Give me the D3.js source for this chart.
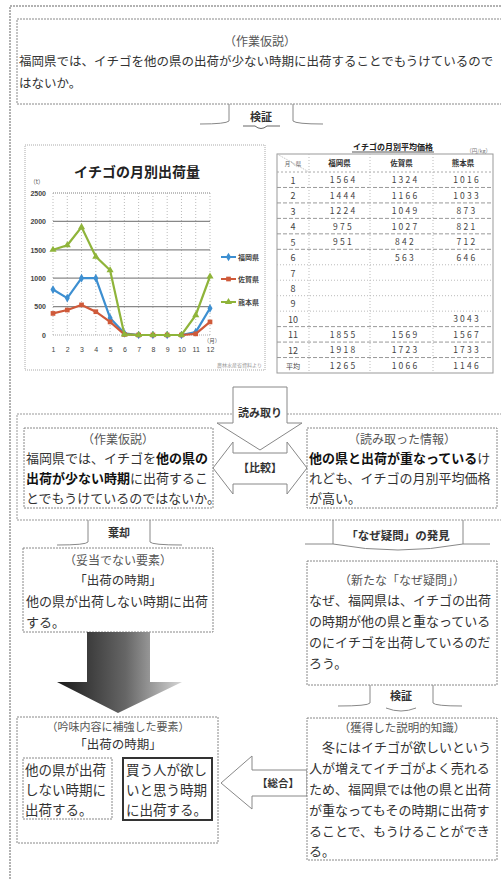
<!DOCTYPE html>
<html><head><meta charset="utf-8">
<script src="https://cdn.jsdelivr.net/npm/d3@7"></script>
<style>body{margin:0;background:#fff}svg{display:block;font-family:"Noto Sans CJK JP","Noto Sans",sans-serif}</style>
</head><body><svg id="c" width="501" height="879"></svg>
<script>
// ---------- data ----------
const months = ["1","2","3","4","5","6","7","8","9","10","11","12"];
const seriesNames = ["福岡県","佐賀県","熊本県"];
const fukuoka  = [800, 650, 1000, 1000, 300, 30, 0, 0, 0, 0, 50, 470];
const saga     = [380, 440, 530, 410, 230, 10, 0, 0, 0, 0, 20, 230];
const kumamoto = [1500, 1580, 1900, 1380, 1140, 10, 0, 0, 0, 0, 350, 1030];
const yTicks = [0, 500, 1000, 1500, 2000, 2500];
const tableHeader = ["月＼県", "福岡県", "佐賀県", "熊本県"];
const tableRows = ["1","2","3","4","5","6","7","8","9","10","11","12","平均"];
const priceFukuoka  = ["1564","1444","1224","975","951","","","","","","1855","1918","1265"];
const priceSaga     = ["1324","1166","1049","1027","842","563","","","","","1569","1723","1066"];
const priceKumamoto = ["1016","1033","873","821","712","646","","","","3043","1567","1733","1146"];

// ---------- helpers ----------
const svg = d3.select("#c");
const TXT = "#333", LINE = "#888";
const FS = 13;
function rect(x, y, w, h, o = {}) {
  return svg.append("rect").attr("x", x).attr("y", y).attr("width", w).attr("height", h)
    .attr("fill", o.fill || "#fff").attr("stroke", o.stroke || LINE)
    .attr("stroke-width", o.sw || 1).attr("stroke-dasharray", o.dash === undefined ? "2,1" : o.dash);
}
function path(d, o = {}) {
  return svg.append("path").attr("d", d).attr("fill", o.fill || "none").attr("stroke", o.stroke || LINE)
    .attr("stroke-width", o.sw || 1).attr("stroke-dasharray", o.dash || null);
}
function text(x, y, content, o = {}) {
  const t = svg.append("text").attr("x", x).attr("y", y).attr("font-size", o.size || FS)
    .attr("fill", o.color || TXT).attr("text-anchor", o.anchor || "start")
    .attr("font-weight", o.bold ? 700 : 400).attr("letter-spacing", o.ls || 0);
  if (Array.isArray(content)) {
    content.forEach(([s, b]) => t.append("tspan").attr("font-weight", b ? 700 : 400).attr("fill", b ? "#111" : (o.color || TXT)).text(s));
  } else t.text(content);
  return t;
}

// ---------- outer frame ----------
path("M10,879 L10,6 L510,6", {stroke: "#999", sw: 1.5, dash: "2,1"});

// ---------- top hypothesis ----------
rect(17, 19, 500, 85);
text(260, 46, "（作業仮説）", {anchor: "middle", size: 12, color: "#555"});
text(19, 66, "福岡県では、イチゴを他の県の出荷が少ない時期に出荷することでもうけているので", {size: 12.5});
text(19, 88, "はないか。", {size: 12.5});

// connector 検証 (top)
path("M229,104 L229,121 Q226,124 200,124");
path("M293,104 L293,121 Q296,124 323,124");
text(261, 121, "検証", {anchor: "middle", size: 11, bold: true});
path("M243,126 L255,126 Q261,131 267,126 L280,126", {stroke: "#666"});

// ---------- line chart ----------
rect(25, 145, 240, 225, {stroke: "#aaa", dash: "1,1"});
text(137, 177, "イチゴの月別出荷量", {anchor: "middle", size: 14, bold: true, color: "#222"});
const x = d3.scalePoint().domain(months).range([53, 210]);
const y = d3.scaleLinear().domain([0, 2500]).range([335, 193]);
const g = svg.append("g");
g.selectAll(".vg").data(months).join("line")
  .attr("x1", d => x(d)).attr("x2", d => x(d)).attr("y1", y(2500)).attr("y2", y(0))
  .attr("stroke", "#bbb").attr("stroke-dasharray", "1,2");
g.selectAll(".hg").data(yTicks).join("line")
  .attr("x1", 53).attr("x2", 210).attr("y1", d => y(d)).attr("y2", d => y(d))
  .attr("stroke", d => d === 0 || d === 2500 ? "#aaa" : "#888").attr("stroke-width", d => d === 0 ? 1 : 1.3)
  .attr("stroke-dasharray", d => d === 2500 || d === 0 ? "1,1" : null);
const ya = svg.append("g").attr("transform", "translate(49,0)")
  .call(d3.axisLeft(y).tickValues(yTicks).tickSize(0).tickPadding(3).tickFormat(d3.format("d")));
ya.select(".domain").remove();
ya.selectAll("text").attr("font-size", 7).attr("fill", "#444").attr("font-weight", 700);
const xa = svg.append("g").attr("transform", "translate(0,335)")
  .call(d3.axisBottom(x).tickSize(0).tickPadding(12));
xa.select(".domain").remove();
xa.selectAll("text").attr("font-size", 7).attr("fill", "#444");
text(37, 184, "（t）", {size: 6, color: "#555", anchor: "middle"});
text(212, 343, "（月）", {size: 5.5, color: "#555", anchor: "middle"});
text(262, 367, "農林水産省資料より", {size: 5, color: "#999", anchor: "end"});

const colors = ["#3d8fd1", "#cf5a3a", "#8fb43a"];
const symbols = [d3.symbolDiamond, d3.symbolSquare, d3.symbolTriangle];
[fukuoka, saga, kumamoto].forEach((vals, i) => {
  const line = d3.line().x((d, j) => x(months[j])).y(d => y(d));
  svg.append("path").datum(vals).attr("d", line).attr("fill", "none")
    .attr("stroke", colors[i]).attr("stroke-width", 2.2);
  svg.selectAll(".m" + i).data(vals).join("path")
    .attr("transform", (d, j) => `translate(${x(months[j])},${y(d)})`)
    .attr("d", d3.symbol(symbols[i], 22)).attr("fill", colors[i]);
  const ly = [257, 279, 302][i];
  svg.append("line").attr("x1", 221).attr("x2", 236).attr("y1", ly).attr("y2", ly)
    .attr("stroke", colors[i]).attr("stroke-width", 2);
  svg.append("path").attr("transform", `translate(228.5,${ly})`).attr("d", d3.symbol(symbols[i], 22)).attr("fill", colors[i]);
  text(238, ly + 2.5, seriesNames[i], {size: 7, color: "#444", bold: true});
});

// ---------- price table ----------
text(393, 150, "イチゴの月別平均価格", {anchor: "middle", size: 8, bold: true, color: "#222"});
path("M352,152 L434,152", {stroke: "#555"});
text(491, 153, "（円/kg）", {anchor: "end", size: 5.5, color: "#777"});
const colEdges = [277, 309, 370, 433, 493];
const rowY = d3.scaleBand().domain(tableRows).range([172, 373]);
rect(277, 154, 216, 219, {stroke: "#999", dash: null, fill: "#fff"});
path("M277,172 L493,172", {stroke: "#aaa", dash: "2,2"});
tableRows.forEach((r, i) => {
  if (i > 0) path(`M277,${rowY(r)} L493,${rowY(r)}`, {stroke: i >= 6 && i <= 9 ? "#bbb" : "#999", dash: i >= 6 && i <= 9 ? "1,2" : "4,2"});
});
colEdges.slice(1, 4).forEach(cx => path(`M${cx},154 L${cx},373`, {stroke: "#bbb", dash: "1,2"}));
path("M277,154 L309,172", {stroke: "#bbb", dash: "1,1"});
text(293, 166, tableHeader[0], {anchor: "middle", size: 5.5, color: "#666"});
tableHeader.slice(1).forEach((h, i) => text((colEdges[i + 1] + colEdges[i + 2]) / 2, 166, h, {anchor: "middle", size: 7.5, bold: true, color: "#333"}));
[priceFukuoka, priceSaga, priceKumamoto].forEach((col, ci) => {
  col.forEach((v, ri) => {
    text((colEdges[ci + 1] + colEdges[ci + 2]) / 2 + 4, rowY(tableRows[ri]) + rowY.bandwidth() / 2 + 3.5, v,
      {anchor: "middle", size: 8.5, ls: 2.2, color: "#444"});
  });
});
tableRows.forEach(r => text(293, rowY(r) + rowY.bandwidth() / 2 + 4, r, {anchor: "middle", size: r === "平均" ? 7 : 9, color: "#444"}));

// ---------- middle comparison section ----------
rect(17, 414, 500, 106, {stroke: "#999"});
rect(24, 428, 189, 80);
text(118, 444, "（作業仮説）", {anchor: "middle", size: 12, color: "#555"});
text(26, 463, [["福岡県では、イチゴを", false], ["他の県の", true]]);
text(26, 483, [["出荷が少ない時期", true], ["に出荷するこ", false]]);
text(26, 503, "とでもうけているのではないか。");
rect(307, 428, 190, 80);
text(402, 444, "（読み取った情報）", {anchor: "middle", size: 12, color: "#555"});
text(309, 463, [["他の県と出荷が重なっている", true], ["け", false]]);
text(309, 483, "れども、イチゴの月別平均価格");
text(309, 503, "が高い。");
// 読み取り arrow
path("M233,387 L287,387 L287,423 L302,423 L260,450 L217,423 L233,423 Z", {fill: "#fff", stroke: "#888"});
text(260, 417, "読み取り", {anchor: "middle", size: 11, bold: true});
// 比較 double arrow
path("M213,468 L233,442 L233,453 L287,453 L287,442 L307,468 L287,494 L287,484 L233,484 L233,494 Z", {stroke: "#888"});
text(260, 472, "【比較】", {anchor: "middle", size: 11, bold: true});

// connector 棄却
path("M88,520 L88,542 Q86,545 57,545");
path("M150,520 L150,542 Q152,545 182,545");
text(119, 537, "棄却", {anchor: "middle", size: 11, bold: true});
// 「なぜ疑問」の発見
path("M333,520 L333,544 L305,544 M463,520 L463,544 L490,544");
path("M333,544 Q398,556 463,544", {stroke: "#888"});
text(398, 540, "「なぜ疑問」の発見", {anchor: "middle", size: 11.5, bold: true});

// ---------- left lower ----------
rect(23, 548, 190, 84);
text(118, 565, "（妥当でない要素）", {anchor: "middle", size: 12, color: "#555"});
text(118, 585, "「出荷の時期」", {anchor: "middle", size: 12.5});
text(26, 606, "他の県が出荷しない時期に出荷");
text(26, 627, "する。");
// gradient arrow
const grad = svg.append("defs").append("linearGradient").attr("id", "ga").attr("x1", 0).attr("x2", 1);
grad.append("stop").attr("offset", 0).attr("stop-color", "#1a1a1a");
grad.append("stop").attr("offset", 0.55).attr("stop-color", "#666");
grad.append("stop").attr("offset", 1).attr("stop-color", "#d6d6d6");
path("M87,632 L150,632 L150,682 L182,682 L118,713 L57,682 L87,682 Z", {fill: "url(#ga)", stroke: "none"});

// ---------- right lower ----------
rect(307, 561, 190, 124);
text(402, 585, "（新たな「なぜ疑問」）", {anchor: "middle", size: 12, color: "#555"});
text(309, 605, "なぜ、福岡県は、イチゴの出荷");
text(309, 626, "の時期が他の県と重なっている");
text(309, 647, "のにイチゴを出荷しているのだ");
text(309, 668, "ろう。");
// connector 検証 (bottom)
path("M370,685 L370,703 Q368,706 338,706");
path("M433,685 L433,703 Q435,706 462,706");
text(401, 700, "検証", {anchor: "middle", size: 11, bold: true});
path("M386,708 Q401,714 416,708", {stroke: "#888"});

// ---------- bottom left ----------
rect(17, 717, 201, 126);
text(118, 731, "（吟味内容に補強した要素）", {anchor: "middle", size: 11, color: "#555"});
text(118, 749, "「出荷の時期」", {anchor: "middle", size: 12.5});
rect(23, 758, 89, 61);
text(25, 775, "他の県が出荷", {size: 13.5});
text(25, 795, "しない時期に", {size: 13.5});
text(25, 815, "出荷する。", {size: 13.5});
rect(123, 758, 89, 62, {stroke: "#333", sw: 2, dash: null});
text(126, 775, "買う人が欲し", {size: 13.5});
text(126, 795, "いと思う時期", {size: 13.5});
text(126, 815, "に出荷する。", {size: 13.5});
// 総合 arrow
path("M221,783 L252,756 L252,770 L307,770 L307,796 L252,796 L252,809 Z", {fill: "#fff", stroke: "#888"});
text(278, 787, "【総合】", {anchor: "middle", size: 10.5, bold: true});

// ---------- bottom right ----------
rect(307, 718, 190, 142);
text(402, 732, "（獲得した説明的知識）", {anchor: "middle", size: 11.5, color: "#555"});
text(309, 752, "　冬にはイチゴが欲しいという");
text(309, 773, "人が増えてイチゴがよく売れる");
text(309, 794, "ため、福岡県では他の県と出荷");
text(309, 815, "が重なってもその時期に出荷す");
text(309, 836, "ることで、もうけることができ");
text(309, 856, "る。");
</script></body></html>
